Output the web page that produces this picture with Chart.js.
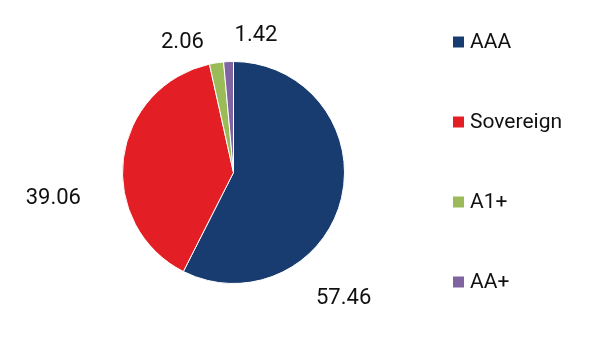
<!DOCTYPE html>
<html>
<head>
<meta charset="utf-8">
<script src="https://cdn.jsdelivr.net/npm/chart.js@4/dist/chart.umd.min.js"></script>
<style>
  html, body { margin: 0; padding: 0; background: #fff; }
  #wrap { width: 597px; height: 352px; position: relative; }
</style>
</head>
<body>
<div id="wrap"><canvas id="chart"></canvas></div>
<script>
const ratings = ['AAA', 'Sovereign', 'A1+', 'AA+'];
const shares = [57.46, 39.06, 2.06, 1.42];
const sliceColors = ['#183c70', '#e31e25', '#9bbb59', '#8064a2'];

// label placement: angle nudge from slice middle (deg), distance as multiple of radius
const labelNudge = [
  { turn: 35.5, dist: 1.51 },
  { turn: -15.4, dist: 1.64 },
  { turn: -12.6, dist: 1.26 },
  { turn: 11.9, dist: 1.25 }
];

const FONT = 'Roboto, "Liberation Sans", sans-serif';

const valueLabels = {
  id: 'valueLabels',
  afterDatasetsDraw(chart) {
    const ctx = chart.ctx;
    const arcs = chart.getDatasetMeta(0).data;
    ctx.save();
    ctx.font = '22px ' + FONT;
    ctx.fillStyle = '#111';
    ctx.textAlign = 'center';
    ctx.textBaseline = 'middle';
    arcs.forEach((arc, i) => {
      const p = arc.getProps(['x', 'y', 'startAngle', 'endAngle', 'outerRadius'], true);
      const a = (p.startAngle + p.endAngle) / 2 + labelNudge[i].turn * Math.PI / 180;
      const r = p.outerRadius * labelNudge[i].dist;
      ctx.fillText(shares[i].toFixed(2), p.x + Math.cos(a) * r, p.y + Math.sin(a) * r);
    });
    ctx.restore();
  }
};

const sideLegend = {
  id: 'sideLegend',
  afterDraw(chart) {
    const ctx = chart.ctx;
    ctx.save();
    ctx.font = '21px ' + FONT;
    ctx.textBaseline = 'middle';
    ratings.forEach((name, i) => {
      const y = 42 + i * 80;
      ctx.fillStyle = sliceColors[i];
      ctx.fillRect(453, y - 5.5, 11, 11);
      ctx.fillStyle = '#111';
      ctx.fillText(name, 470, y + 1);
    });
    ctx.restore();
  }
};

const ctx = document.getElementById('chart').getContext('2d');
new Chart(ctx, {
  type: 'pie',
  data: {
    labels: ratings,
    datasets: [{
      data: shares,
      backgroundColor: sliceColors,
      borderColor: '#ffffff',
      borderWidth: 1
    }]
  },
  options: {
    responsive: true,
    maintainAspectRatio: false,
    animation: false,
    layout: {
      padding: { left: 122, right: 252, top: 61, bottom: 68 }
    },
    plugins: {
      legend: { display: false },
      tooltip: { enabled: false }
    }
  },
  plugins: [valueLabels, sideLegend]
});
</script>
</body>
</html>
